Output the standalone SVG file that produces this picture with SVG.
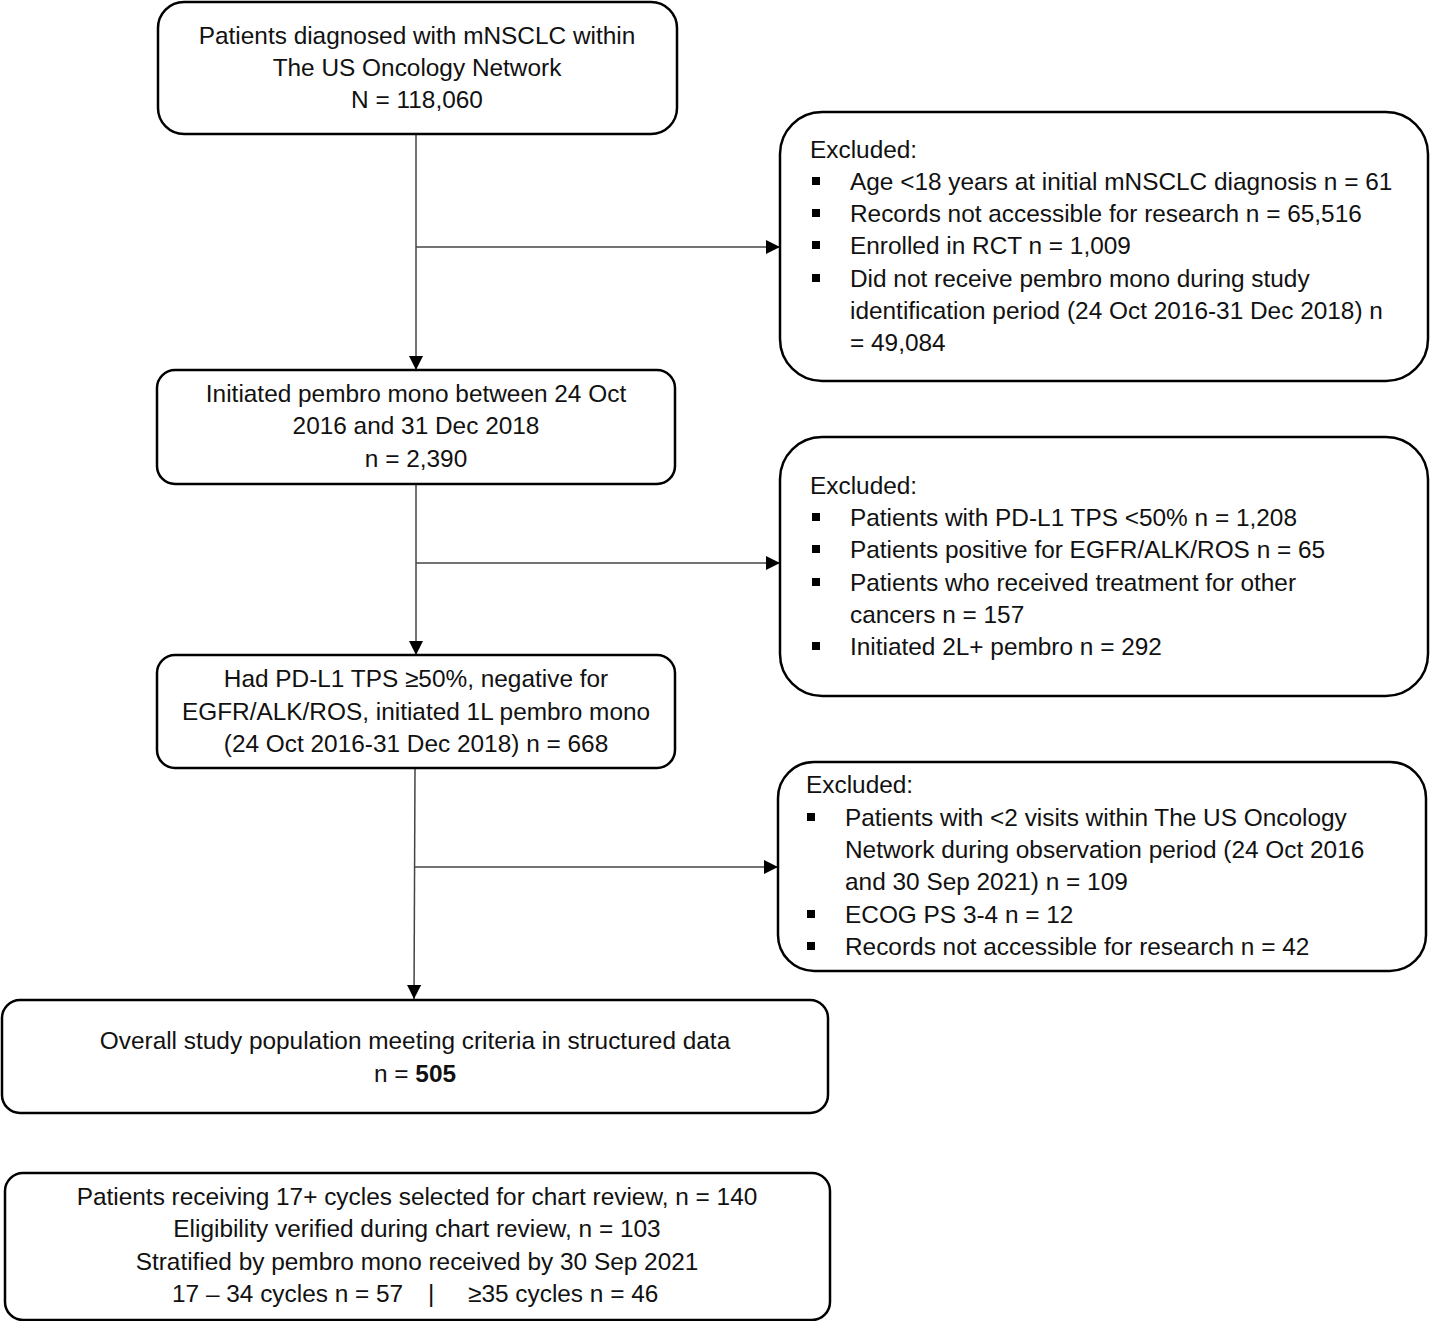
<svg xmlns="http://www.w3.org/2000/svg" width="1430" height="1321" viewBox="0 0 1430 1321">
<style>
.box{fill:#fff;stroke:#000;stroke-width:2.5}
.t{font-family:"Liberation Sans",Arial,sans-serif;font-size:24.4px;fill:#111}
.c{text-anchor:middle}
.ln{stroke:#444;stroke-width:1.5;fill:none}
.b{fill:#000}
</style>
<defs>
<marker id="ah" viewBox="0 0 10 10" refX="10" refY="5" markerWidth="14" markerHeight="14" markerUnits="userSpaceOnUse" orient="auto">
<path d="M0,0 L10,5 L0,10 Z" fill="#000"/>
</marker>
</defs>
<rect width="1430" height="1321" fill="#fff"/>
<g id="connectors">
<line class="ln" x1="416" y1="134" x2="416" y2="370" marker-end="url(#ah)"/>
<line class="ln" x1="416" y1="247" x2="780" y2="247" marker-end="url(#ah)"/>
<line class="ln" x1="416" y1="484" x2="416" y2="655" marker-end="url(#ah)"/>
<line class="ln" x1="416" y1="563" x2="780" y2="563" marker-end="url(#ah)"/>
<line class="ln" x1="415" y1="768" x2="414" y2="999" marker-end="url(#ah)"/>
<line class="ln" x1="415" y1="867" x2="778" y2="867" marker-end="url(#ah)"/>
</g>
<g id="n1">
<rect class="box" x="158" y="2" width="519" height="132" rx="26"/>
<text class="t c" x="417" y="44">Patients diagnosed with mNSCLC within</text>
<text class="t c" x="417" y="76">The US Oncology Network</text>
<text class="t c" x="417" y="108">N = 118,060</text>
</g>
<g id="n2">
<rect class="box" x="780" y="112" width="648" height="269" rx="42"/>
<text class="t" x="810" y="158">Excluded:</text>
<rect class="b" x="812" y="177" width="8" height="8"/>
<text class="t" x="850" y="190">Age &lt;18 years at initial mNSCLC diagnosis n = 61</text>
<rect class="b" x="812" y="209" width="8" height="8"/>
<text class="t" x="850" y="222">Records not accessible for research n = 65,516</text>
<rect class="b" x="812" y="241" width="8" height="8"/>
<text class="t" x="850" y="254">Enrolled in RCT n = 1,009</text>
<rect class="b" x="812" y="274" width="8" height="8"/>
<text class="t" x="850" y="287">Did not receive pembro mono during study</text>
<text class="t" x="850" y="319">identification period (24 Oct 2016-31 Dec 2018) n</text>
<text class="t" x="850" y="351">= 49,084</text>
</g>
<g id="n3">
<rect class="box" x="157" y="370" width="518" height="114" rx="18"/>
<text class="t c" x="416" y="402">Initiated pembro mono between 24 Oct</text>
<text class="t c" x="416" y="434">2016 and 31 Dec 2018</text>
<text class="t c" x="416" y="467">n = 2,390</text>
</g>
<g id="n4">
<rect class="box" x="780" y="437" width="648" height="259" rx="42"/>
<text class="t" x="810" y="494">Excluded:</text>
<rect class="b" x="812" y="513" width="8" height="8"/>
<text class="t" x="850" y="526">Patients with PD-L1 TPS &lt;50% n = 1,208</text>
<rect class="b" x="812" y="545" width="8" height="8"/>
<text class="t" x="850" y="558">Patients positive for EGFR/ALK/ROS n = 65</text>
<rect class="b" x="812" y="578" width="8" height="8"/>
<text class="t" x="850" y="591">Patients who received treatment for other</text>
<text class="t" x="850" y="623">cancers n = 157</text>
<rect class="b" x="812" y="642" width="8" height="8"/>
<text class="t" x="850" y="655">Initiated 2L+ pembro n = 292</text>
</g>
<g id="n5">
<rect class="box" x="157" y="655" width="518" height="113" rx="18"/>
<text class="t c" x="416" y="687">Had PD-L1 TPS ≥50%, negative for</text>
<text class="t c" x="416" y="720">EGFR/ALK/ROS, initiated 1L pembro mono</text>
<text class="t c" x="416" y="752">(24 Oct 2016-31 Dec 2018) n = 668</text>
</g>
<g id="n6">
<rect class="box" x="778" y="762" width="648" height="209" rx="36"/>
<text class="t" x="806" y="793">Excluded:</text>
<rect class="b" x="807" y="813" width="8" height="8"/>
<text class="t" x="845" y="826">Patients with &lt;2 visits within The US Oncology</text>
<text class="t" x="845" y="858">Network during observation period (24 Oct 2016</text>
<text class="t" x="845" y="890">and 30 Sep 2021) n = 109</text>
<rect class="b" x="807" y="910" width="8" height="8"/>
<text class="t" x="845" y="923">ECOG PS 3-4 n = 12</text>
<rect class="b" x="807" y="942" width="8" height="8"/>
<text class="t" x="845" y="955">Records not accessible for research n = 42</text>
</g>
<g id="n7">
<rect class="box" x="2" y="1000" width="826" height="113" rx="18"/>
<text class="t c" x="415" y="1049">Overall study population meeting criteria in structured data</text>
<text class="t c" x="415" y="1082">n = <tspan font-weight="bold">505</tspan></text>
</g>
<g id="n8">
<rect class="box" x="5" y="1173" width="825" height="147" rx="18"/>
<text class="t c" x="417" y="1205">Patients receiving 17+ cycles selected for chart review, n = 140</text>
<text class="t c" x="417" y="1237">Eligibility verified during chart review, n = 103</text>
<text class="t c" x="417" y="1270">Stratified by pembro mono received by 30 Sep 2021</text>
<text class="t" x="172" y="1302">17 – 34 cycles n = 57</text>
<text class="t" x="428" y="1302">|</text>
<text class="t" x="468" y="1302">≥35 cycles n = 46</text>
</g>
</svg>
